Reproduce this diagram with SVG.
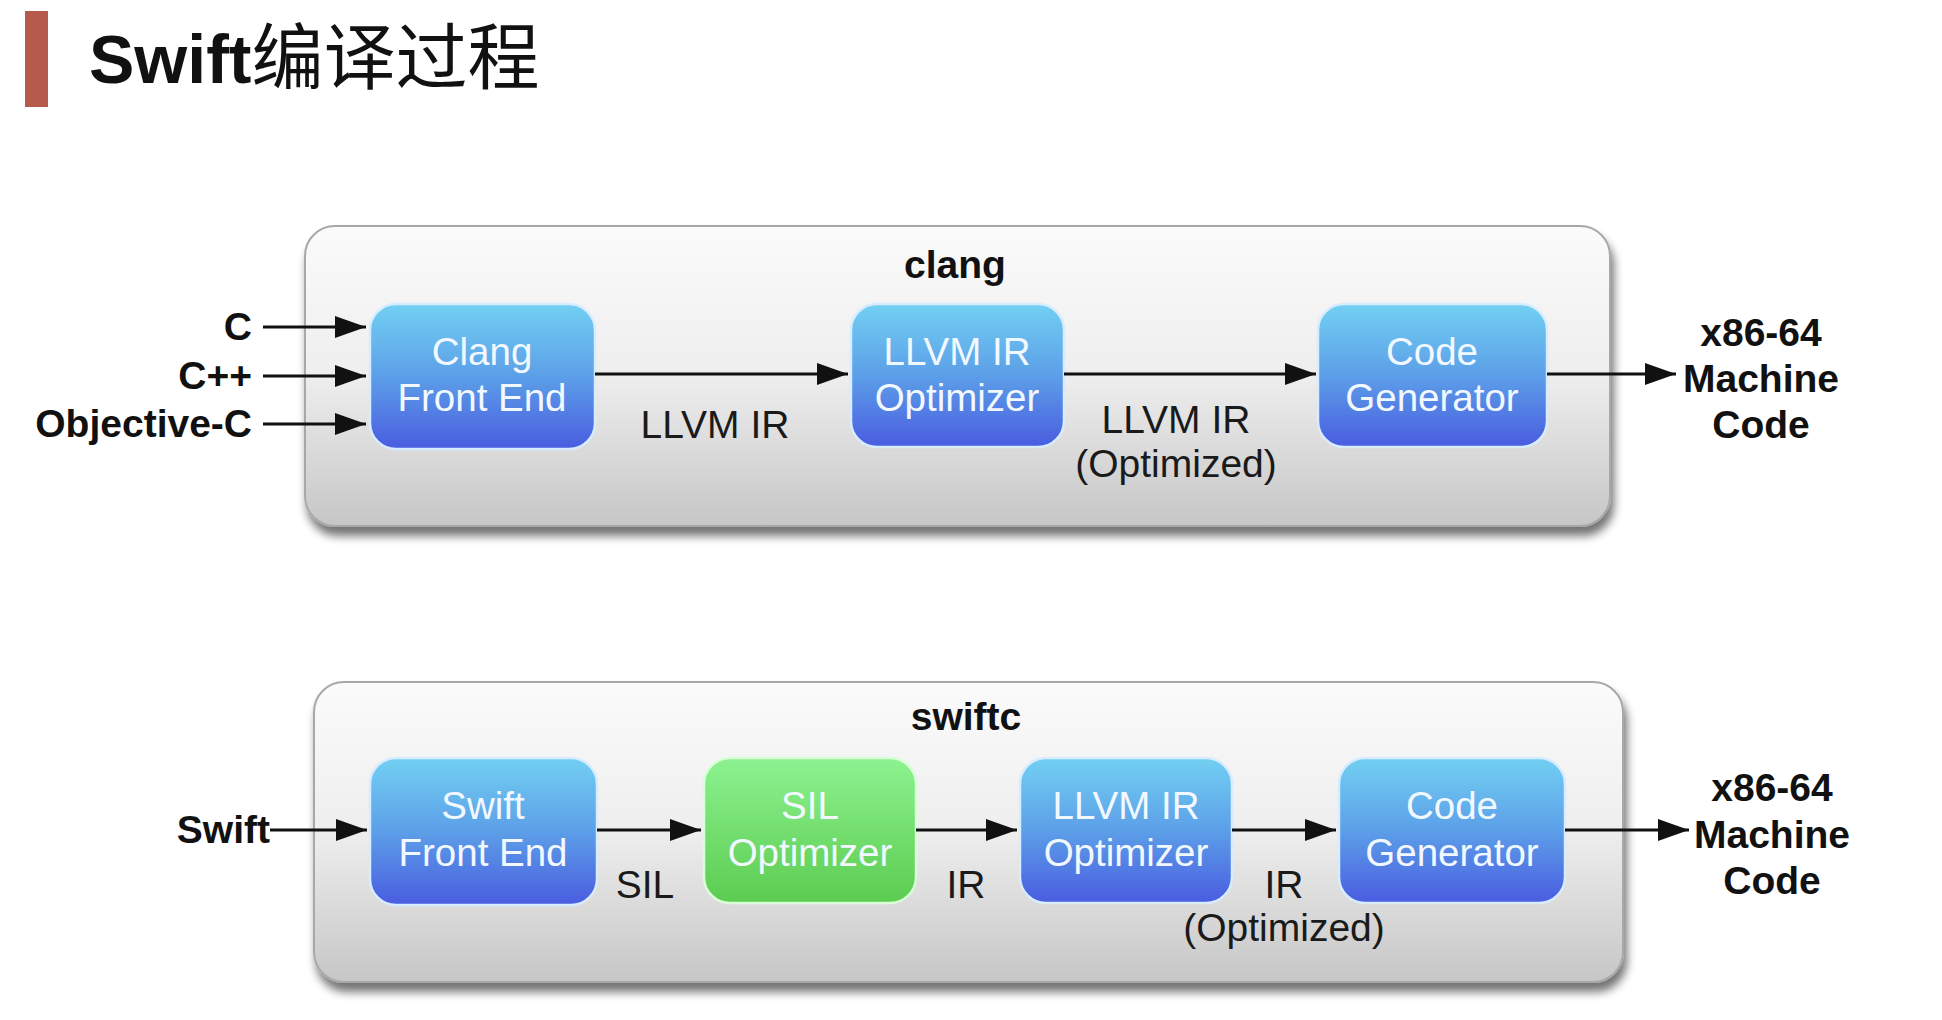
<svg xmlns="http://www.w3.org/2000/svg" width="1942" height="1020" viewBox="0 0 1942 1020">
<style>
.t{font-family:"Liberation Sans",Arial,sans-serif;}
.nt{font-family:"Liberation Sans",Arial,sans-serif;font-size:38.5px;fill:#f2f8ff;text-anchor:middle;}
.lb{font-family:"Liberation Sans",Arial,sans-serif;font-size:39px;fill:#1a1a1a;text-anchor:middle;}
.bl{font-family:"Liberation Sans",Arial,sans-serif;font-size:39px;font-weight:bold;fill:#111;}
.ln{stroke:#111;stroke-width:3;fill:none;marker-end:url(#ah);}
.box{fill:url(#cg);stroke:#a8a8a8;stroke-width:2;filter:url(#sh);}
.bn{fill:url(#bg);stroke:#d8ecff;stroke-width:2.5;}
.gn{fill:url(#gg);stroke:#d8ffd8;stroke-width:2.5;}
</style>
<defs>
<linearGradient id="cg" x1="0" y1="0" x2="0" y2="1">
<stop offset="0" stop-color="#fbfbfb"/><stop offset="0.5" stop-color="#eeeeee"/><stop offset="1" stop-color="#c6c6c6"/>
</linearGradient>
<linearGradient id="bg" x1="0" y1="0" x2="0" y2="1">
<stop offset="0" stop-color="#72d0f2"/><stop offset="0.5" stop-color="#5c9fe8"/><stop offset="1" stop-color="#4a5ce0"/>
</linearGradient>
<linearGradient id="gg" x1="0" y1="0" x2="0" y2="1">
<stop offset="0" stop-color="#8cf290"/><stop offset="1" stop-color="#5ccc50"/>
</linearGradient>
<filter id="sh" x="-5%" y="-10%" width="110%" height="125%">
<feGaussianBlur in="SourceAlpha" stdDeviation="5"/>
<feOffset dx="3" dy="9" result="b"/>
<feComponentTransfer><feFuncA type="linear" slope="0.55"/></feComponentTransfer>
<feMerge><feMergeNode/><feMergeNode in="SourceGraphic"/></feMerge>
</filter>
<marker id="ah" markerWidth="32" markerHeight="24" refX="31" refY="11" orient="auto" markerUnits="userSpaceOnUse">
<path d="M0,0 L31,11 L0,22 Z" fill="#111"/>
</marker>
</defs>
<rect width="1942" height="1020" fill="#ffffff"/>
<g id="title">
<rect x="25" y="11" width="23" height="96" fill="#b55a4c"/>
<text x="89" y="83" class="t" font-size="68" fill="#111"><tspan font-weight="bold">Swift</tspan><tspan font-family="'Noto Sans CJK SC',sans-serif" font-size="72" font-weight="400">编译过程</tspan></text>
</g>
<g id="clang">
<rect class="box" x="305" y="226" width="1305" height="300" rx="30"/>
<text x="955" y="278" class="bl" text-anchor="middle" font-size="34">clang</text>
</g>
<g id="swiftc">
<rect class="box" x="314" y="682" width="1309" height="300" rx="30"/>
<text x="966" y="730" class="bl" text-anchor="middle" font-size="34">swiftc</text>
</g>
<g id="clang-front-end">
<rect class="bn" x="370" y="304" width="225" height="145" rx="26"/>
<text class="nt" x="482" y="365">Clang</text><text class="nt" x="482" y="411">Front End</text>
</g>
<g id="llvm-ir-optimizer-1">
<rect class="bn" x="851" y="304" width="213" height="143" rx="26"/>
<text class="nt" x="957" y="365">LLVM IR</text><text class="nt" x="957" y="411">Optimizer</text>
</g>
<g id="code-generator-1">
<rect class="bn" x="1318" y="304" width="229" height="143" rx="26"/>
<text class="nt" x="1432" y="365">Code</text><text class="nt" x="1432" y="411">Generator</text>
</g>
<g id="swift-front-end">
<rect class="bn" x="370" y="758" width="227" height="147" rx="26"/>
<text class="nt" x="483" y="819">Swift</text><text class="nt" x="483" y="866">Front End</text>
</g>
<g id="sil-optimizer">
<rect class="gn" x="704" y="758" width="212" height="145" rx="26"/>
<text class="nt" x="810" y="819">SIL</text><text class="nt" x="810" y="866">Optimizer</text>
</g>
<g id="llvm-ir-optimizer-2">
<rect class="bn" x="1020" y="758" width="212" height="145" rx="26"/>
<text class="nt" x="1126" y="819">LLVM IR</text><text class="nt" x="1126" y="866">Optimizer</text>
</g>
<g id="code-generator-2">
<rect class="bn" x="1339" y="758" width="226" height="145" rx="26"/>
<text class="nt" x="1452" y="819">Code</text><text class="nt" x="1452" y="866">Generator</text>
</g>
<g id="inputs">
<text class="bl" x="252" y="340" text-anchor="end">C</text>
<text class="bl" x="252" y="389" text-anchor="end">C++</text>
<text class="bl" x="252" y="437" text-anchor="end">Objective-C</text>
<text class="bl" x="270" y="843" text-anchor="end">Swift</text>
</g>
<g id="outputs">
<text class="bl" x="1761" y="346" text-anchor="middle">x86-64</text>
<text class="bl" x="1761" y="392" text-anchor="middle">Machine</text>
<text class="bl" x="1761" y="438" text-anchor="middle">Code</text>
<text class="bl" x="1772" y="801" text-anchor="middle">x86-64</text>
<text class="bl" x="1772" y="848" text-anchor="middle">Machine</text>
<text class="bl" x="1772" y="894" text-anchor="middle">Code</text>
</g>
<g id="connectors">
<line class="ln" x1="263" y1="327" x2="366" y2="327"/>
<line class="ln" x1="263" y1="376" x2="366" y2="376"/>
<line class="ln" x1="263" y1="424" x2="366" y2="424"/>
<line class="ln" x1="595" y1="374" x2="848" y2="374"/>
<line class="ln" x1="1064" y1="374" x2="1316" y2="374"/>
<line class="ln" x1="1547" y1="374" x2="1676" y2="374"/>
<line class="ln" x1="270" y1="830" x2="367" y2="830"/>
<line class="ln" x1="597" y1="830" x2="701" y2="830"/>
<line class="ln" x1="916" y1="830" x2="1017" y2="830"/>
<line class="ln" x1="1232" y1="830" x2="1336" y2="830"/>
<line class="ln" x1="1565" y1="830" x2="1689" y2="830"/>
</g>
<g id="edge-labels">
<text class="lb" x="715" y="438">LLVM IR</text>
<text class="lb" x="1176" y="433">LLVM IR</text>
<text class="lb" x="1176" y="477">(Optimized)</text>
<text class="lb" x="645" y="898">SIL</text>
<text class="lb" x="966" y="898">IR</text>
<text class="lb" x="1284" y="898">IR</text>
<text class="lb" x="1284" y="941">(Optimized)</text>
</g>
</svg>
